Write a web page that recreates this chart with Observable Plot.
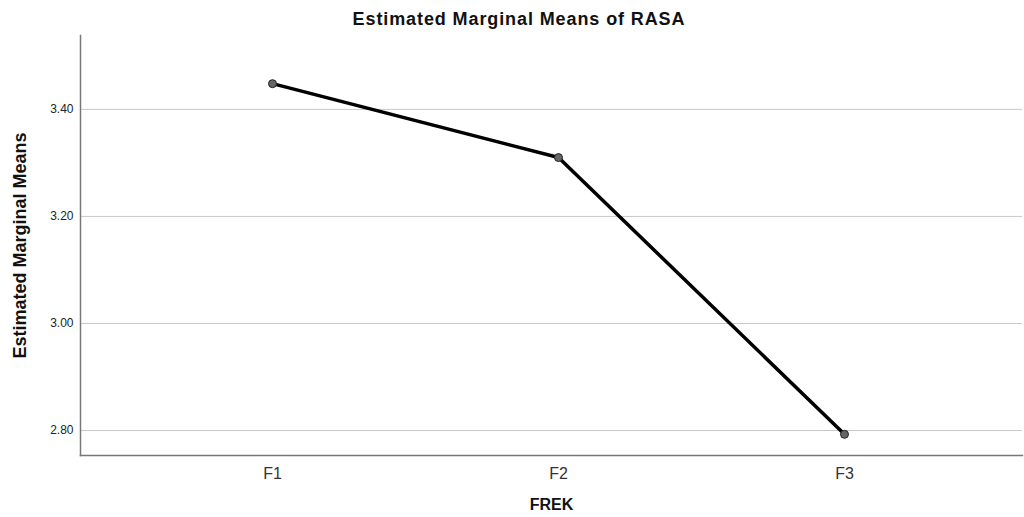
<!DOCTYPE html>
<html>
<head>
<meta charset="utf-8">
<script src="https://cdn.jsdelivr.net/npm/d3@7"></script>
<script src="https://cdn.jsdelivr.net/npm/@observablehq/plot@0.6"></script>
<style>
  html, body { margin: 0; padding: 0; background: #fff; }
  #wrap { position: relative; width: 1024px; height: 517px; font-family: "Liberation Sans", Arial, sans-serif; }
  #title { position: absolute; top: 9px; left: 0; width: 1038px; text-align: center; font-weight: bold; font-size: 18px; letter-spacing: 0.9px; color: #111; }
  #chart { position: absolute; top: 0; left: 0; }
</style>
</head>
<body>
<div id="wrap">
  <div id="chart"></div>
  <div id="title">Estimated Marginal Means of RASA</div>
</div>
<script>
const categories = ["F1", "F2", "F3"];
const means = [3.448, 3.310, 2.793];
const yTicks = [2.80, 3.00, 3.20, 3.40];
const yTickLabels = ["2.80", "3.00", "3.20", "3.40"];

const data = categories.map((c, i) => ({ frek: c, mean: means[i] }));

const chart = Plot.plot({
  width: 1024,
  height: 517,
  marginLeft: 80,
  marginRight: 2,
  marginTop: 35,
  marginBottom: 62,
  style: { fontFamily: "Liberation Sans, Arial, sans-serif", background: "#fff", overflow: "visible" },
  x: { type: "point", domain: categories, range: [80, 1036], padding: 0.668, label: null },
  y: { domain: [2.7534, 3.538], label: null },
  marks: [
    Plot.ruleY(yTicks, { stroke: "#c8c8c8", strokeWidth: 1 }),
    Plot.axisY({ ticks: yTicks, tickFormat: (d) => yTickLabels[yTicks.indexOf(d)], tickSize: 0, tickPadding: 7, fontSize: 12, fill: "#222", label: null }),
    Plot.axisX({ tickSize: 0, tickPadding: 12, fontSize: 16, fill: "#333", label: null }),
    Plot.frame({ anchor: "left", stroke: "#777", strokeWidth: 1.5 }),
    Plot.frame({ anchor: "bottom", stroke: "#777", strokeWidth: 1.5 }),
    Plot.line(data, { x: "frek", y: "mean", stroke: "#000", strokeWidth: 3.5 }),
    Plot.dot(data, { x: "frek", y: "mean", r: 4, fill: "#666", stroke: "#222", strokeWidth: 1 }),
    Plot.text(["FREK"], { frameAnchor: "bottom", dy: 54, text: d => d, fontSize: 16, fontWeight: "bold", fill: "#111" }),
    Plot.text(["Estimated Marginal Means"], { frameAnchor: "left", dx: -60, rotate: -90, textAnchor: "middle", text: d => d, fontSize: 18, fontWeight: "bold", fill: "#111", letterSpacing: "-1px" })
  ]
});
document.getElementById("chart").appendChild(chart);
</script>
</body>
</html>
